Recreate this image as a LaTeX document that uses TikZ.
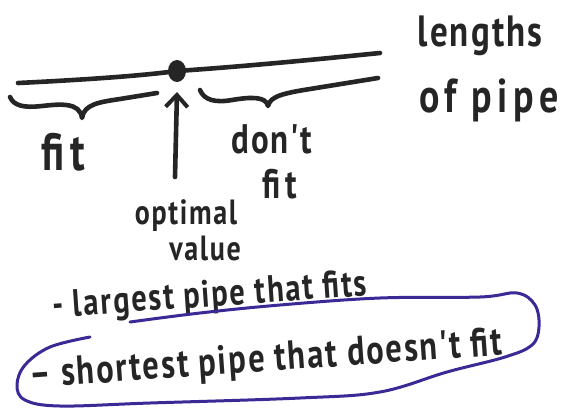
\documentclass[tikz,border=0pt]{standalone}
\usepackage{fontspec}
\setmainfont{PT Sans}
\newfontfamily\handfont{PT Sans}[LetterSpace=6]
\newfontfamily\widehand{PT Sans}[LetterSpace=14]
\usetikzlibrary{arrows.meta}
\definecolor{ink}{HTML}{252525}
\definecolor{loopink}{HTML}{3B2A96}
% marker lettering is taller than it is wide
\newcommand{\tall}[1]{\scalebox{1}[1.25]{#1}}
\begin{document}
\begin{tikzpicture}[x=1pt,y=-1pt,
  marker/.style={draw=ink, line width=4.6pt, line cap=round, line join=round},
  hand/.style={text=ink, inner sep=0pt, font=\handfont\bfseries\fontsize{#1}{#1}\selectfont},
  hand/.default=32,
  widehand/.style={text=ink, inner sep=0pt, font=\widehand\bfseries\fontsize{#1}{#1}\selectfont}]
\useasboundingbox (0,0) rectangle (572,413);

% number line of pipe lengths, with the optimum marked
\coordinate (opt) at (177,71);
\coordinate (lineL) at (18,83);
\coordinate (lineR) at (380,53);
\draw[marker] (lineL) .. controls (80,80) and (140,76) .. (opt)
  .. controls (250,66) and (320,59) .. (lineR);
\fill[ink] (opt) ellipse [x radius=9pt, y radius=11pt];

% brace under the part that fits
\draw[marker] (10,97) .. controls (14,106) and (24,108) .. (42,106)
  .. controls (60,104) and (80,102) .. (82,118)
  .. controls (84,104) and (100,102) .. (120,99) -- (157,93);
% brace under the part that does not fit
\draw[marker] (200,90) .. controls (204,100) and (215,103) .. (232,100)
  .. controls (250,97) and (266,96) .. (268,106)
  .. controls (270,96) and (285,93) .. (310,89) -- (378,78);

% arrow pointing at the optimum
\coordinate (arrowfoot) at (175,177);
\coordinate (arrowtip) at (177,92);
\draw[marker, -{Straight Barb[length=12pt, width=22pt, line width=4pt]}]
  (arrowfoot) -- (arrowtip);

% labels
\node[hand=35] (lengths) at (480,36) {\tall{lengths}};
\node[widehand=38] (ofpipe) at (489,100) {\tall{of pipe}};
\node[widehand=42] (fits) at (63,152) {\tall{fit}};
\node[hand=33] (dont) at (272,139) {\tall{don't}};
\node[widehand=33] (dontfit) at (280,184) {\tall{fit}};
\node[hand=28] (optimal) at (186,216) {\tall{optimal}};
\node[hand=28] (value) at (205,248) {\tall{value}};

\node[hand=30.5, rotate=4] (largest) at (210,297) {\tall{- largest pipe that fits}};
\node[hand=32.5, rotate=4] (shortest) at (266,361) {\tall{– shortest pipe that doesn't fit}};

% loop drawn round the second answer
\draw[draw=loopink, line width=3pt, line cap=round, line join=round]
  plot[smooth, tension=0.6] coordinates {(90,337) (50,347) (25,365) (17,385)
  (25,400) (60,406) (150,403) (300,398) (380,392) (447,372) (505,357)
  (532,345) (539,327) (535,305) (517,293) (480,297) (380,298) (280,305)
  (200,313) (130,322)};
\end{tikzpicture}
\end{document}
